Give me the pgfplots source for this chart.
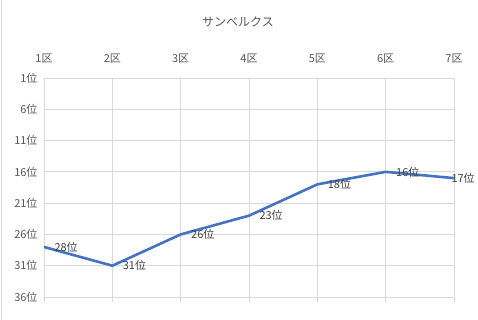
\documentclass[border=0pt]{standalone}
\usepackage{pgfplots}
\pgfplotsset{compat=1.18}
\usepackage{fontspec}
\setmainfont{Noto Sans CJK JP}
\definecolor{txt}{HTML}{595959}
\definecolor{grd}{HTML}{D9D9D9}
\definecolor{ln}{HTML}{4472C4}
\definecolor{lab}{HTML}{404040}
\begin{document}
\begin{tikzpicture}[x=1pt,y=1pt]
\path[use as bounding box, fill=white] (0,0) rectangle (478,320);
\draw[grd, line width=0.8pt] (1.5,0) -- (1.5,320);
\node[txt, font=\fontsize{12}{14}\selectfont] at (238,298) {サンベルクス};
\begin{axis}[
  at={(44pt,23pt)}, anchor=south west,
  scale only axis, width=410pt, height=219pt,
  xmin=1, xmax=7, ymin=1, ymax=36, y dir=reverse,
  xtick={1,...,7}, ytick={1,6,...,36},
  xticklabels={1区,2区,3区,4区,5区,6区,7区},
  yticklabel={\pgfmathprintnumber{\tick}位},
  xticklabel pos=upper, xtick pos=lower, ytick pos=left,
  xtick align=outside, major tick length=5pt,
  major x tick style={grd, line width=0.8pt},
  major y tick style={draw=none},
  grid=major, major grid style={grd, line width=0.8pt},
  axis line style={draw=none},
  tick label style={txt, font=\fontsize{11}{13}\selectfont},
  xticklabel style={yshift=6pt},
  yticklabel style={xshift=-3pt},
  /pgf/number format/assume math mode=true,
  clip=false,
]
\addplot[ln, line width=2.6pt, no marks] coordinates {(1,28) (2,31) (3,26) (4,23) (5,18) (6,16) (7,17)};
\addplot[draw=none, no marks, point meta=y,
  nodes near coords={\pgfmathprintnumber{\pgfplotspointmeta}位},
  nodes near coords style={anchor=west, xshift=7pt, text=lab, font=\fontsize{11}{13}\selectfont}]
  coordinates {(1,28) (2,31) (3,26) (4,23) (5,18) (6,16)};
\addplot[draw=none, no marks, point meta=y,
  nodes near coords={\pgfmathprintnumber{\pgfplotspointmeta}位},
  nodes near coords style={anchor=west, xshift=-6pt, text=lab, font=\fontsize{11}{13}\selectfont}]
  coordinates {(7,17)};
\end{axis}
\end{tikzpicture}
\end{document}
